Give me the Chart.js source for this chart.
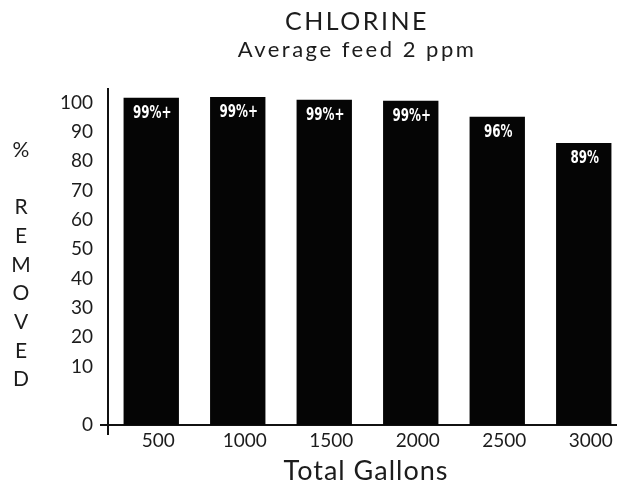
<!DOCTYPE html>
<html>
<head>
<meta charset="utf-8">
<script src="https://cdn.jsdelivr.net/npm/chart.js@4/dist/chart.umd.min.js"></script>
<style>
  html, body { margin: 0; padding: 0; background: #fff; overflow: hidden; }
  #wrap { width: 632px; height: 487px; }
</style>
</head>
<body>
<div id="wrap"><canvas id="chart" width="632" height="487"></canvas></div>
<script>
/* chart data */
const gallons = ['500', '1000', '1500', '2000', '2500', '3000'];
const removed = [101.7, 102, 101, 100.7, 95.2, 86.3];
const barLabels = ['99%+', '99%+', '99%+', '99%+', '96%', '89%'];
const yTickValues = [-10, 10, 20, 30, 40, 50, 60, 70, 80, 90, 100];
const yTickLabels = ['0', '10', '20', '30', '40', '50', '60', '70', '80', '90', '100'];
const titleLines = ['CHLORINE', 'Average feed 2 ppm'];
const yTitleLetters = ['%', '', 'R', 'E', 'M', 'O', 'V', 'E', 'D'];
const xTitle = 'Total Gallons';

const ink = '#1c1c1c';
const fontFam = 'Lato, "Open Sans", sans-serif';

/* text around the plot */
const textPlugin = {
  id: 'textPlugin',
  afterDraw(chart) {
    const ctx = chart.ctx;
    ctx.save();
    ctx.fillStyle = ink;
    ctx.textAlign = 'center';
    ctx.textBaseline = 'middle';
    // titles
    ctx.letterSpacing = '2.5px';
    ctx.font = '25px ' + fontFam;
    ctx.fillText(titleLines[0], 357, 22);
    ctx.letterSpacing = '2.5px';
    ctx.font = '22px ' + fontFam;
    ctx.fillText(titleLines[1], 357, 50);
    // x title
    ctx.letterSpacing = '1px';
    ctx.font = '27px ' + fontFam;
    ctx.fillText(xTitle, 366, 471);
    ctx.letterSpacing = '0px';
    // stacked y title
    ctx.font = '21px ' + fontFam;
    yTitleLetters.forEach((ch, i) => {
      if (ch) ctx.fillText(ch, 21, 150 + i * 28.7);
    });
    // axis cross at the origin
    const a = chart.chartArea;
    ctx.strokeStyle = '#111';
    ctx.lineWidth = 2;
    ctx.beginPath();
    ctx.moveTo(a.left - 8, a.bottom);
    ctx.lineTo(a.left, a.bottom);
    ctx.moveTo(a.left, a.bottom);
    ctx.lineTo(a.left, a.bottom + 10);
    ctx.moveTo(a.left, a.top);
    ctx.lineTo(a.left, a.top - 6);
    ctx.stroke();
    ctx.restore();
  }
};

/* white labels inside bars, squeezed like the condensed print */
const barLabelPlugin = {
  id: 'barLabelPlugin',
  afterDatasetsDraw(chart) {
    const ctx = chart.ctx;
    const meta = chart.getDatasetMeta(0);
    ctx.save();
    ctx.fillStyle = '#fff';
    ctx.font = 'bold 17px "DejaVu Sans Condensed", "DejaVu Sans", sans-serif';
    ctx.textAlign = 'center';
    ctx.textBaseline = 'middle';
    meta.data.forEach((bar, i) => {
      ctx.save();
      ctx.translate(bar.x + 1, bar.y + 16);
      ctx.scale(0.78, 1);
      ctx.fillText(barLabels[i], 0, 0);
      ctx.restore();
    });
    ctx.restore();
  }
};

new Chart(document.getElementById('chart'), {
  type: 'bar',
  data: {
    labels: gallons,
    datasets: [{
      data: removed,
      base: -10,
      backgroundColor: '#050505',
      borderWidth: 0,
      barPercentage: 0.64,
      categoryPercentage: 1.0
    }]
  },
  options: {
    responsive: false,
    animation: false,
    layout: { padding: { left: 0, top: 94, right: 5, bottom: 0 } },
    plugins: {
      legend: { display: false },
      tooltip: { enabled: false }
    },
    scales: {
      x: {
        grid: { display: false, drawTicks: false },
        border: { display: true, color: '#111', width: 2 },
        ticks: {
          color: ink,
          font: { family: fontFam, size: 19 },
          padding: 4,
          labelOffset: 7,
          maxRotation: 0
        },
        afterFit: (s) => { s.height = 62; }
      },
      y: {
        min: -10,
        max: 103,
        grid: { display: false, drawTicks: false },
        border: { display: true, color: '#111', width: 2 },
        afterBuildTicks: (s) => {
          s.ticks = yTickValues.map(v => ({ value: v }));
        },
        ticks: {
          color: ink,
          font: { family: fontFam, size: 19 },
          padding: 15,
          callback: (v) => yTickLabels[yTickValues.indexOf(v)]
        },
        afterFit: (s) => { s.width = 108; }
      }
    }
  },
  plugins: [textPlugin, barLabelPlugin]
});
</script>
</body>
</html>
